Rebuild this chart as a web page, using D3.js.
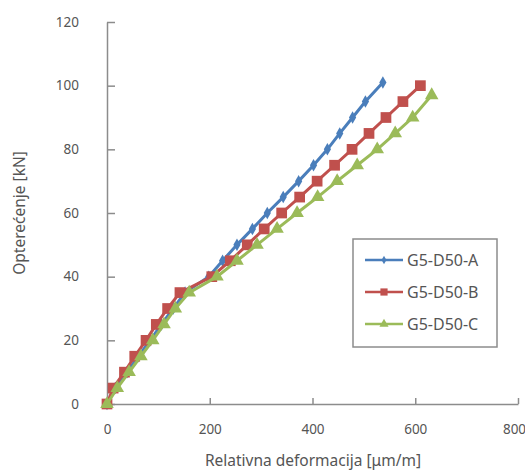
<!DOCTYPE html>
<html>
<head>
<meta charset="utf-8">
<script src="https://cdn.jsdelivr.net/npm/d3@7"></script>
<style>
  body { margin: 0; background: #fff; }
  text { font-family: "Noto Sans", sans-serif; fill: #555; }
</style>
</head>
<body>
<div id="chart"></div>
<script>
// load steps (kN) and strain readings for each specimen
var loadA = [0, 5, 10, 15, 20, 25, 30, 35, 40, 45, 50, 55, 60, 65, 70, 75, 80, 85, 90, 95, 101];
var strainA = [0, 16, 39, 61, 84, 106, 129, 152, 198, 225, 253, 283, 312, 343, 373, 402, 429, 453, 478, 503, 537];

var loadB = [0, 5, 10, 15, 20, 25, 30, 35, 40, 45, 50, 55, 60, 65, 70, 75, 80, 85, 90, 95, 100];
var strainB = [0, 12, 34, 54, 76, 96, 118, 142, 204, 240, 273, 306, 340, 375, 409, 443, 477, 510, 543, 576, 610];

var loadC = [0, 5, 10, 15, 20, 25, 30, 35, 40, 45, 50, 55, 60, 65, 70, 75, 80, 85, 90, 97];
var strainC = [0, 20, 43, 66, 89, 111, 133, 160, 214, 253, 292, 331, 370, 410, 448, 487, 526, 561, 595, 632];

var seriesNames = ["G5-D50-A", "G5-D50-B", "G5-D50-C"];
var xTicks = [0, 200, 400, 600, 800];
var yTicks = [0, 20, 40, 60, 80, 100, 120];

var width = 525, height = 471;
var svg = d3.select("#chart").append("svg")
  .attr("width", width).attr("height", height);

var x = d3.scaleLinear().domain([0, 800]).range([107, 518]);
var y = d3.scaleLinear().domain([0, 120]).range([404, 22]);

var colors = ["#4a7ebb", "#c0504d", "#9bbb59"];

// axes, ticks point inward like the original
var xAxis = svg.append("g")
  .attr("transform", "translate(0," + y(0) + ")")
  .call(d3.axisBottom(x).tickValues(xTicks).tickSizeInner(-6).tickSizeOuter(0).tickPadding(20));
var yAxis = svg.append("g")
  .attr("transform", "translate(" + x(0) + ",0)")
  .call(d3.axisLeft(y).tickValues(yTicks).tickSizeInner(-8).tickSizeOuter(0).tickPadding(28));

[xAxis, yAxis].forEach(function(a) {
  a.select(".domain").attr("stroke", "#8c8c8c").attr("stroke-width", 1.5);
  a.selectAll(".tick line").attr("stroke", "#8c8c8c").attr("stroke-width", 1.5);
  a.selectAll(".tick text").style("font-size", "13.5px").attr("fill", "#555");
});
// last x label sits right on the edge, pull it in a little
xAxis.selectAll(".tick text").filter(function(d) { return d === 800; }).attr("dx", -4);

var series = [
  { name: seriesNames[0], data: d3.zip(strainA, loadA), sym: d3.symbolDiamond, size: 45 },
  { name: seriesNames[1], data: d3.zip(strainB, loadB), sym: d3.symbolSquare, size: 115 },
  { name: seriesNames[2], data: d3.zip(strainC, loadC), sym: d3.symbolTriangle, size: 80 }
];

var line = d3.line()
  .x(function(d) { return x(d[0]); })
  .y(function(d) { return y(d[1]); });

// A first, C ends up on top
series.forEach(function(s, i) {
  var g = svg.append("g");
  g.append("path")
    .attr("d", line(s.data))
    .attr("fill", "none")
    .attr("stroke", colors[i])
    .attr("stroke-width", 3);
  g.selectAll("path.pt")
    .data(s.data)
    .enter().append("path")
    .attr("class", "pt")
    .attr("d", d3.symbol().type(s.sym).size(s.size))
    .attr("transform", function(d) { return "translate(" + x(d[0]) + "," + y(d[1]) + ")"; })
    .attr("fill", colors[i]);
});

// legend
var legend = svg.append("g").attr("transform", "translate(353,239)");
legend.append("rect")
  .attr("width", 144).attr("height", 108)
  .attr("fill", "#fff").attr("stroke", "#8c8c8c").attr("stroke-width", 1.5);

series.forEach(function(s, i) {
  var ly = 21 + i * 32;
  legend.append("line")
    .attr("x1", 12).attr("x2", 50).attr("y1", ly).attr("y2", ly)
    .attr("stroke", colors[i]).attr("stroke-width", 2.5);
  legend.append("path")
    .attr("d", d3.symbol().type(s.sym).size(s.size * 0.45))
    .attr("transform", "translate(31," + ly + ")")
    .attr("fill", colors[i]);
  legend.append("text")
    .attr("x", 54).attr("y", ly + 5.5)
    .style("font-size", "16px")
    .text(s.name);
});

// axis titles
svg.append("text")
  .attr("x", 313).attr("y", 466)
  .attr("text-anchor", "middle")
  .style("font-size", "15.5px")
  .text("Relativna deformacija [μm/m]");

svg.append("text")
  .attr("transform", "translate(25,213) rotate(-90)")
  .attr("text-anchor", "middle")
  .style("font-size", "15.5px")
  .text("Opterećenje [kN]");
</script>
</body>
</html>
